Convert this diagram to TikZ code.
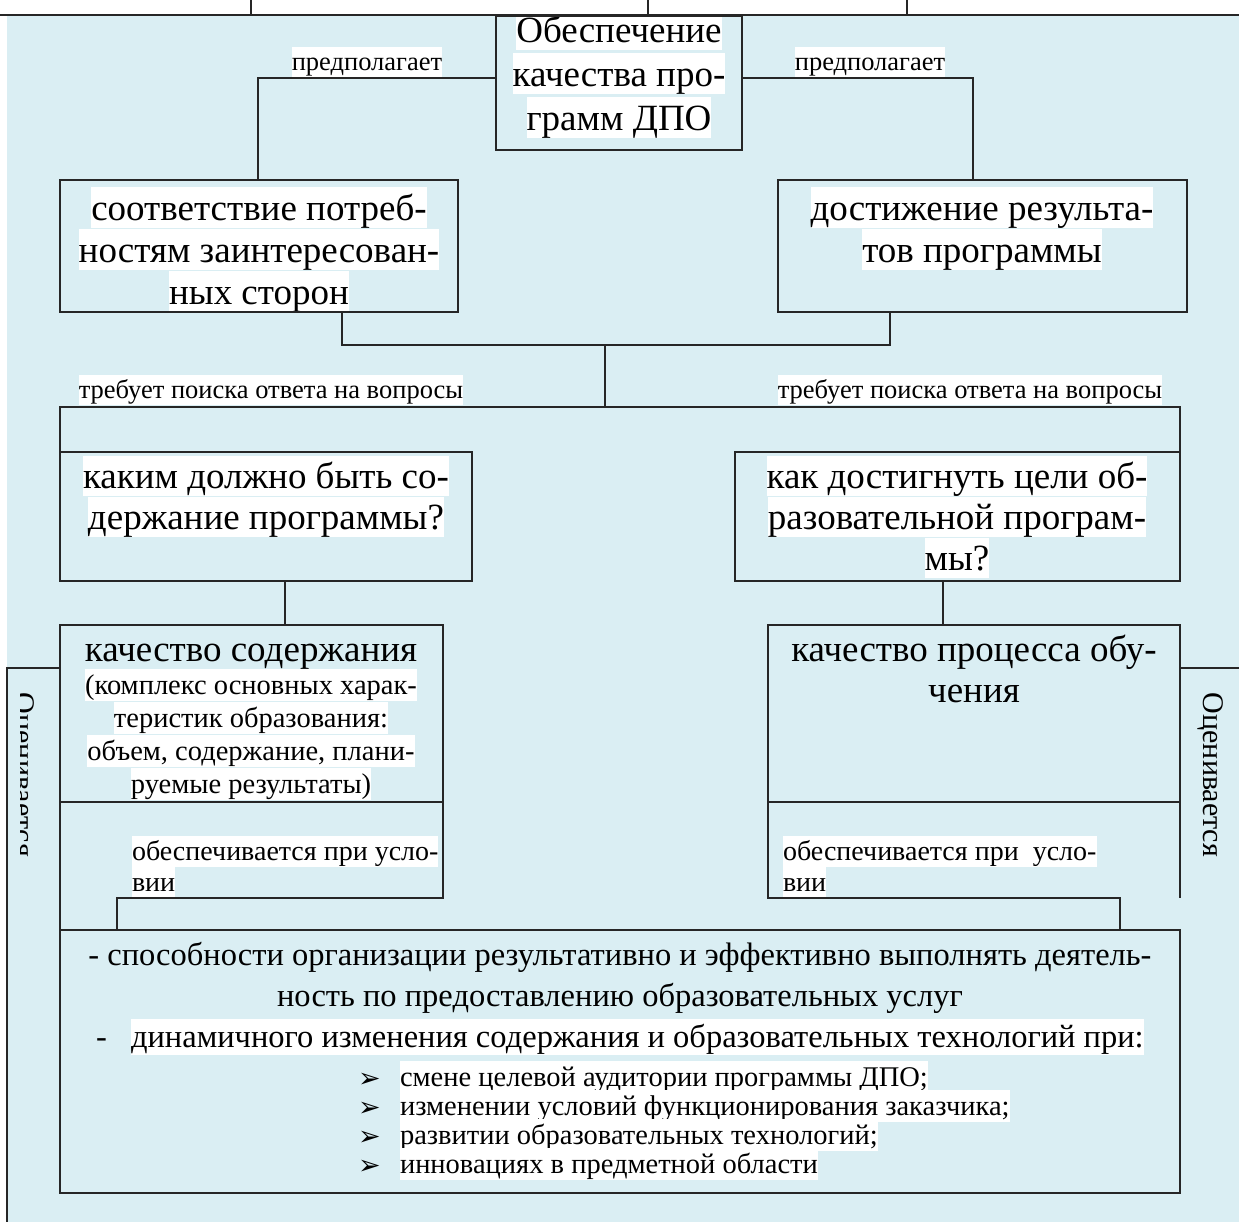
\documentclass[tikz,border=0pt]{standalone}
\usepackage{fontspec}
\setmainfont{Liberation Serif}
\newfontfamily\dejavu{DejaVu Sans}
\definecolor{bgblue}{RGB}{218,238,243}
\setlength{\lineskiplimit}{-100pt}
\newcommand{\st}{\rule[-0.216em]{0pt}{1.107em}}
\newcommand{\hl}[1]{{\setlength{\fboxsep}{0pt}\colorbox{white}{\st#1}}}
\newcommand{\fbig}{\fontsize{37}{42}\selectfont}
\newcommand{\ftitle}{\fontsize{37}{44}\selectfont}
\newcommand{\fq}{\fontsize{37}{41}\selectfont}
\newcommand{\flab}{\fontsize{26.5}{30}\selectfont}
\newcommand{\fcond}{\fontsize{28}{31}\selectfont}
\newcommand{\fsmall}{\fontsize{28.5}{33}\selectfont}
\newcommand{\fbot}{\fontsize{32.5}{41}\selectfont}
\newcommand{\fbul}{\fontsize{28.5}{29}\selectfont}
\newcommand{\fside}{\fontsize{30}{34}\selectfont}
\newcommand{\bul}{\makebox[42pt][l]{\raisebox{-1pt}{\dejavu\fontsize{27}{27}\selectfont ➢}}}
\begin{document}
\begin{tikzpicture}[x=1pt,y=-1pt,
  ln/.style={draw=black!85, line width=1.4pt},
  box/.style={ln, rectangle, inner sep=0pt, outer sep=0pt, anchor=north west},
  txt/.style={inner sep=0pt, outer sep=0pt, align=center, anchor=north},
  lab/.style={inner sep=0pt, outer sep=0pt, font=\flab},
  cond/.style={inner sep=0pt, outer sep=0pt, align=left, anchor=north west, font=\fcond},
  side/.style={inner sep=0pt, rotate=-90, font=\fside}]
\useasboundingbox (0,0) rectangle (1239,1222);
\fill[white] (0,0) rectangle (1239,1222);
\fill[bgblue] (7,15) rectangle (1239,1222);
% remnants of the table above
\draw[ln] (0,15) -- (1239,15);
\draw[ln] (251,0) -- (251,15);
\draw[ln] (648,0) -- (648,15);
\draw[ln] (907,0) -- (907,15);

% ---------- texts ----------
\begin{scope}
\clip (496,16) rectangle (742,150);
\node[txt, font=\ftitle] (tT) at (619,9.5) {\hl{Обеспечение}\\\hl{качества про-}\\\hl{грамм ДПО}};
\end{scope}
\node[lab] (p1) at (367,62) {\hl{предполагает}};
\node[lab] (p2) at (870,62) {\hl{предполагает}};
\node[txt, font=\fbig] (tA) at (259,187.5) {\hl{соответствие потреб-}\\\hl{ностям заинтересован-}\\\hl{ных сторон}};
\node[txt, font=\fbig] (tB) at (982,187.5) {\hl{достижение результа-}\\\hl{тов программы}};
\node[lab] (r1) at (271,390) {\hl{требует поиска ответа на вопросы}};
\node[lab] (r2) at (970,390) {\hl{требует поиска ответа на вопросы}};
\node[txt, font=\fq] (tC) at (266,455.5) {\hl{каким должно быть со-}\\\hl{держание программы?}};
\node[txt, font=\fq] (tD) at (957,455.5) {\hl{как достигнуть цели об-}\\\hl{разовательной програм-}\\\hl{мы?}};
\node[txt, font=\fq] (tE) at (251,628.5) {\st качество содержания};
\node[txt, font=\fsmall] (tE2) at (251,669) {\hl{(комплекс основных харак-}\\\hl{теристик образования:}\\\hl{объем, содержание, плани-}\\\hl{руемые результаты)}};
\node[txt, font=\fq] (tF) at (974,628.5) {\st качество процесса обу-\\\st чения};
\node[cond] (u1) at (132,836) {\hl{обеспечивается при усло-}\\\hl{вии}};
\node[cond] (u2) at (783,836) {\hl{обеспечивается при\ \ усло-}\\\hl{вии}};
\node[txt, font=\fbot] (tG) at (620,937) {\st- способности организации результативно и эффективно выполнять деятель-\\\st ность по предоставлению образовательных услуг\\\st-\hspace{24pt}\hl{динамичного изменения содержания и образовательных технологий при:}};
\node[txt, font=\fbul, anchor=north west, align=left] (tH) at (358,1061) {\bul\hl{смене целевой аудитории программы ДПО;}\\\bul\hl{изменении условий функционирования заказчика;}\\\bul\hl{развитии образовательных технологий;}\\\bul\hl{инновациях в предметной области}};
\node[side] (sR) at (1211,775) {Оценивается};
\begin{scope}
\clip (20,668) rectangle (60,930);
\node[side] (sL) at (22,775) {Оценивается};
\end{scope}

% ---------- boxes ----------
\node[box, minimum width=246pt, minimum height=134pt] (T) at (496,16) {};
\node[box, minimum width=398pt, minimum height=132pt] (A) at (60,180) {};
\node[box, minimum width=409pt, minimum height=132pt] (B) at (778,180) {};
\node[box, minimum width=412pt, minimum height=129pt] (C) at (60,452) {};
\node[box, minimum width=445pt, minimum height=129pt] (D) at (735,452) {};
\node[box, minimum width=383pt, minimum height=177pt] (E) at (60,625) {};
\node[box, minimum width=412pt, minimum height=177pt] (F) at (768,625) {};
\node[box, minimum width=1120pt, minimum height=263pt] (G) at (60,930) {};

% ---------- connectors ----------
\coordinate (jL) at (258,78);
\coordinate (jR) at (973,78);
\draw[ln] (T.west |- jL) -- (jL) -- (jL |- A.north);
\draw[ln] (T.east |- jR) -- (jR) -- (jR |- B.north);
\coordinate (mA) at (342,345);
\coordinate (mB) at (890,345);
\coordinate (mC) at (605,345);
\coordinate (g) at (605,407);
\draw[ln] (mA |- A.south) -- (mA) -- (mB) -- (mB |- B.south);
\draw[ln] (mC) -- (g);
\draw[ln] (C.north west) -- (C.north west |- g) -- (D.north east |- g) -- (D.north east);
\coordinate (q1) at (285,600);
\coordinate (q2) at (943,600);
\draw[ln] (C.south -| q1) -- (E.north -| q1);
\draw[ln] (D.south -| q2) -- (F.north -| q2);
\coordinate (oL) at (7,668);
\coordinate (oLb) at (7,1222);
\draw[ln] (E.west |- oL) -- (oL) -- (oLb);
\coordinate (oR) at (1239,668);
\draw[ln] (oR) -- (F.east |- oR);
\coordinate (uL) at (117,898);
\coordinate (uR) at (1120,898);
\draw[ln] (E.south west) -- (G.north west);
\draw[ln] (E.south east) -- (E.south east |- uL) -- (uL) -- (uL |- G.north);
\draw[ln] (F.south west) -- (F.south west |- uR) -- (uR) -- (uR |- G.north);
\draw[ln] (F.south east) -- (F.south east |- uR);
\end{tikzpicture}
\end{document}
